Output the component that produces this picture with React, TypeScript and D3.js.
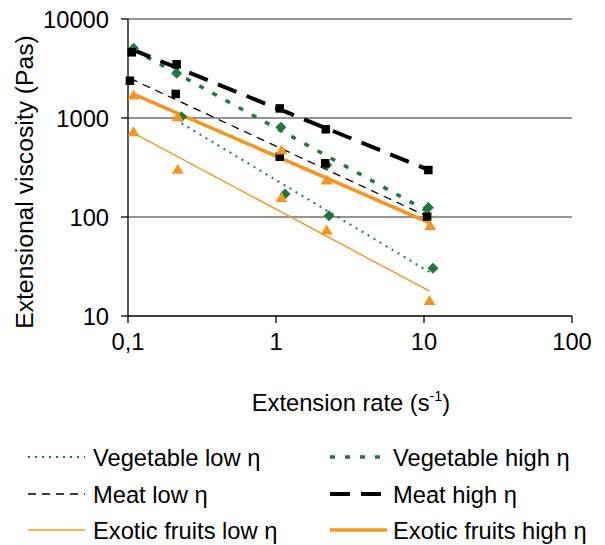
import React from "react";
import * as d3 from "d3";

const seriesNames = [
  "Vegetable low η",
  "Vegetable high η",
  "Meat low η",
  "Meat high η",
  "Exotic fruits low η",
  "Exotic fruits high η",
];

const vegLowX = [0.23, 1.15, 2.28, 11.5];
const vegLowY = [1030, 171, 103, 30.3];
const vegHighX = [0.109, 0.213, 1.08, 2.2, 10.7];
const vegHighY = [5060, 2830, 806, 335, 125];
const meatLowX = [0.103, 0.21, 1.06, 2.15, 10.5];
const meatLowY = [2380, 1750, 406, 349, 101];
const meatHighX = [0.106, 0.213, 1.06, 2.17, 10.7];
const meatHighY = [4610, 3490, 1250, 769, 298];
const exoLowX = [0.109, 0.217, 1.09, 2.2, 10.9];
const exoLowY = [727, 303, 157, 74, 14.3];
const exoHighX = [0.109, 0.217, 1.09, 2.2, 11];
const exoHighY = [1710, 1030, 475, 236, 82];

const xTicks = [0.1, 1, 10, 100];
const xTickLabels = ["0,1", "1", "10", "100"];
const yTicks = [10, 100, 1000, 10000];
const yTickLabels = ["10", "100", "1000", "10000"];

const GREEN = "#1b7a3b";
const ORANGE = "#f7941d";
const BLACK = "#000000";

type Style = { color: string; width: number; dash: string | null; marker: "diamond" | "square" | "triangle" };
const styles: Style[] = [
  { color: GREEN, width: 2, dash: "2 5", marker: "diamond" },
  { color: GREEN, width: 3.5, dash: "5 10", marker: "diamond" },
  { color: BLACK, width: 1.3, dash: "8 6", marker: "square" },
  { color: BLACK, width: 4, dash: "20 11", marker: "square" },
  { color: ORANGE, width: 1.4, dash: null, marker: "triangle" },
  { color: ORANGE, width: 3.5, dash: null, marker: "triangle" },
];

const xs = [vegLowX, vegHighX, meatLowX, meatHighX, exoLowX, exoHighX];
const ys = [vegLowY, vegHighY, meatLowY, meatHighY, exoLowY, exoHighY];

function powerFit(x: number[], y: number[]) {
  const lx = x.map(Math.log10);
  const ly = y.map(Math.log10);
  const mx = d3.mean(lx)!;
  const my = d3.mean(ly)!;
  let sxy = 0, sxx = 0;
  lx.forEach((v, i) => { sxy += (v - mx) * (ly[i] - my); sxx += (v - mx) * (v - mx); });
  const b = sxy / sxx;
  const a = my - b * mx;
  const x0 = d3.min(x)!, x1 = d3.max(x)!;
  return [
    [x0, Math.pow(10, a + b * Math.log10(x0))],
    [x1, Math.pow(10, a + b * Math.log10(x1))],
  ];
}

function Marker({ type, cx, cy, color }: { type: string; cx: number; cy: number; color: string }) {
  if (type === "square") return <rect x={cx - 4.25} y={cy - 4.25} width={8.5} height={8.5} fill={color} />;
  if (type === "diamond")
    return <path d={`M${cx},${cy - 5.5}L${cx + 5.5},${cy}L${cx},${cy + 5.5}L${cx - 5.5},${cy}Z`} fill={color} />;
  return <path d={`M${cx},${cy - 5.5}L${cx + 6},${cy + 4.5}L${cx - 6},${cy + 4.5}Z`} fill={color} />;
}

const FS = 24.7;
const SX = 0.96;

function HText({ x, y, anchor, children }: { x: number; y: number; anchor?: string; children: React.ReactNode }) {
  return (
    <text
      transform={`translate(${x},${y}) scale(${SX},1)`}
      textAnchor={anchor ?? "start"}
      fontFamily="'Liberation Sans', Arial, sans-serif"
      fontSize={FS}
    >
      {children}
    </text>
  );
}

export default function App() {
  const W = 605, H = 545;
  const x = d3.scaleLog().domain([0.1, 100]).range([128, 572]);
  const y = d3.scaleLog().domain([10, 10000]).range([316, 19]);
  const line = d3.line<number[]>().x((d) => x(d[0])).y((d) => y(d[1]));

  const legendRows = [457, 494, 530];
  const legendCols = [[28, 85, 93], [330, 387, 393]];

  return (
    <svg width={W} height={H} style={{ position: "absolute", left: 0, top: 0, background: "#fff" }}>
      {yTicks.slice(1).map((t) => (
        <line key={t} x1={x(0.1)} x2={x(100)} y1={y(t)} y2={y(t)} stroke="#707070" strokeWidth={1.3} />
      ))}
      <line x1={x(0.1)} x2={x(0.1)} y1={y(10000)} y2={y(10)} stroke="#000" strokeWidth={1.3} />
      <line x1={x(0.1)} x2={x(100)} y1={y(10)} y2={y(10)} stroke="#000" strokeWidth={1.3} />
      {yTicks.map((t, i) => (
        <g key={t}>
          <line x1={x(0.1) - 7} x2={x(0.1)} y1={y(t)} y2={y(t)} stroke="#000" strokeWidth={1.3} />
          <HText x={x(0.1) - 19} y={y(t) + 9} anchor="end">{yTickLabels[i]}</HText>
        </g>
      ))}
      {xTicks.map((t, i) => (
        <g key={t}>
          <line x1={x(t)} x2={x(t)} y1={y(10)} y2={y(10) + 7} stroke="#000" strokeWidth={1.3} />
          <HText x={x(t)} y={y(10) + 34} anchor="middle">{xTickLabels[i]}</HText>
        </g>
      ))}
      <HText x={351} y={411} anchor="middle">
        Extension rate (s<tspan dy={-10} fontSize={15}>-1</tspan><tspan dy={10}>)</tspan>
      </HText>
      <text
        transform={`translate(33,182) rotate(-90) scale(1,${SX})`}
        textAnchor="middle"
        fontFamily="'Liberation Sans', Arial, sans-serif"
        fontSize={FS}
      >
        Extensional viscosity (Pas)
      </text>
      {styles.map((s, i) => (
        <path
          key={"t" + i}
          d={line(powerFit(xs[i], ys[i]))!}
          fill="none"
          stroke={s.color}
          strokeWidth={s.width}
          strokeDasharray={s.dash ?? undefined}
        />
      ))}
      {styles.map((s, i) =>
        xs[i].map((xv, j) => (
          <Marker key={`m${i}-${j}`} type={s.marker} cx={x(xv)} cy={y(ys[i][j])} color={s.color} />
        ))
      )}
      {seriesNames.map((n, i) => {
        const row = Math.floor(i / 2);
        const col = i % 2;
        const [lx0, lx1, tx] = legendCols[col];
        const ly = legendRows[row];
        const s = styles[i];
        return (
          <g key={n}>
            <line x1={lx0} x2={lx1} y1={ly} y2={ly} stroke={s.color} strokeWidth={s.width} strokeDasharray={s.dash ?? undefined} />
            <HText x={tx} y={ly + 8.5}>{n}</HText>
          </g>
        );
      })}
    </svg>
  );
}
